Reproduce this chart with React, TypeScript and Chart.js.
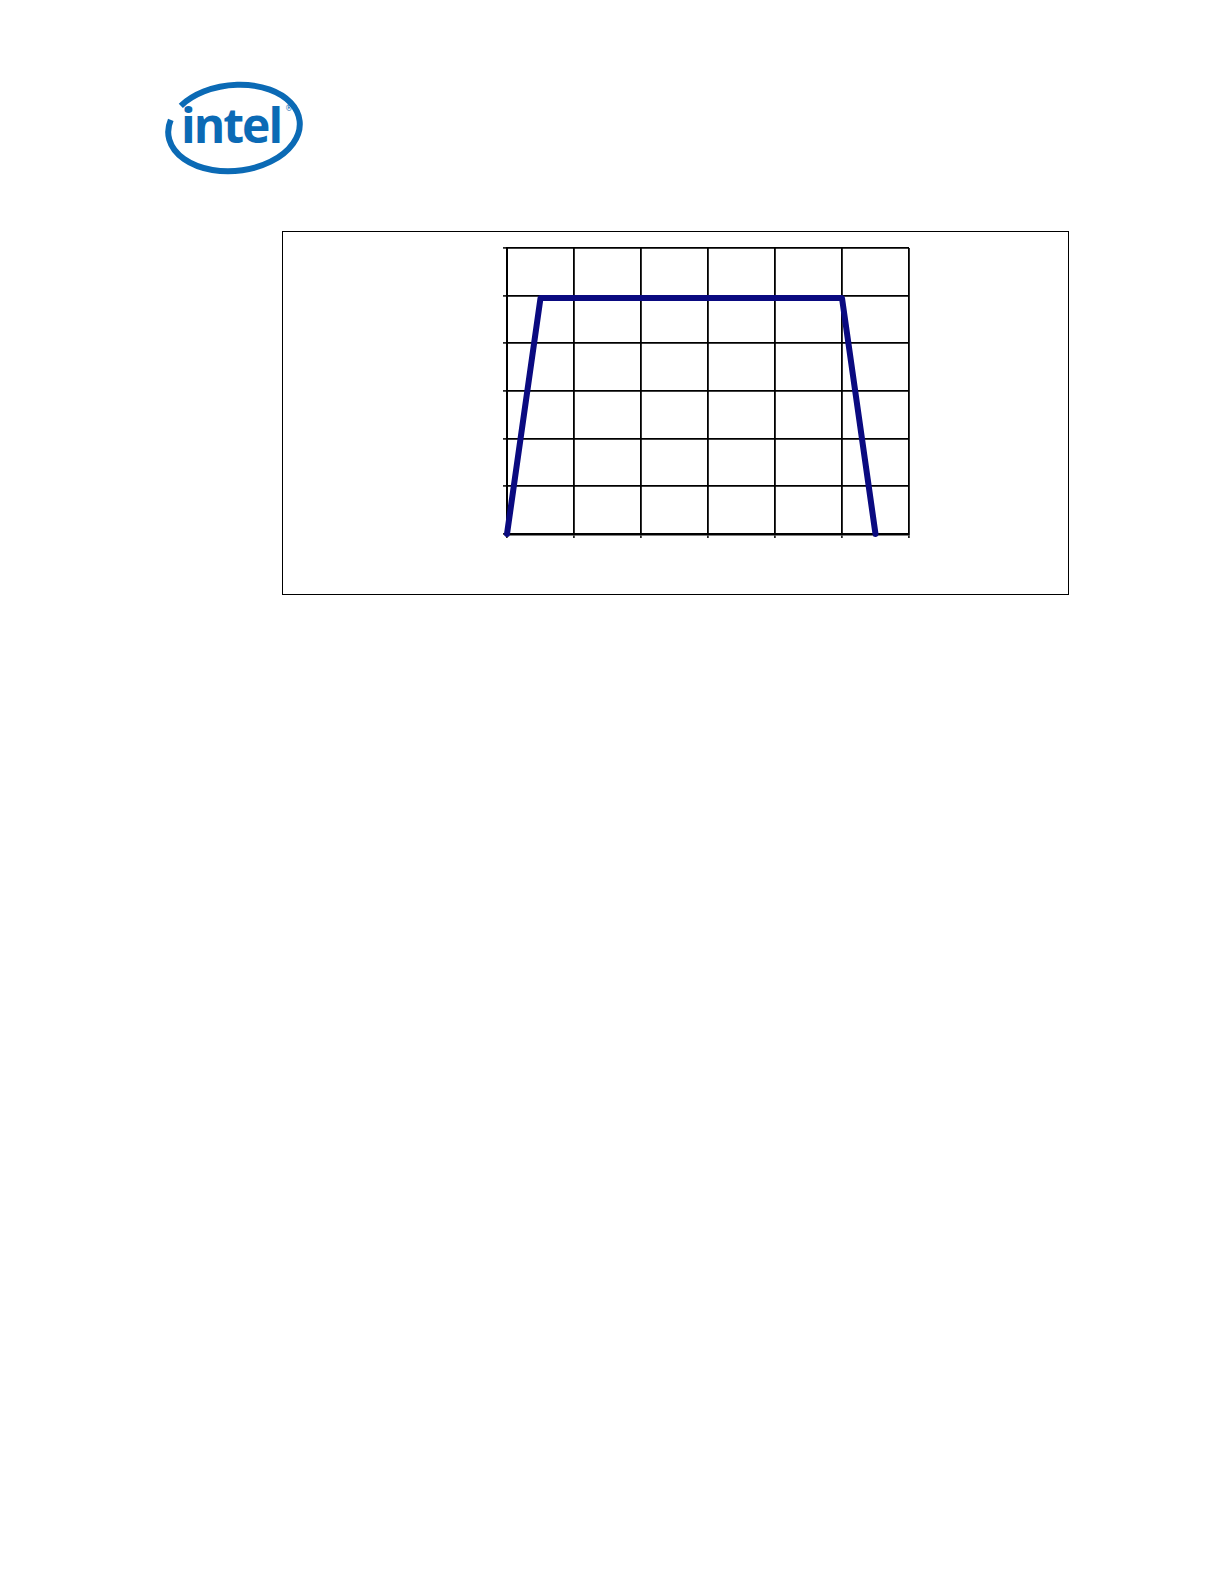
import React, { useEffect, useRef } from "react";
import { Chart, registerables } from "chart.js";

Chart.register(...registerables);

// Data (axis units: 6 x 6 grid, no labels shown)
const xValues = [0, 0.5, 5, 5.5];
const yValues = [0, 4.95, 4.95, 0];
const xRange = [0, 6];
const yRange = [0, 6];

const LOGO_BLUE = "#0b6ab5";

function ellipseArc(cx: number, cy: number, rx: number, ry: number, rotDeg: number, t0: number, t1: number) {
  const r = (rotDeg * Math.PI) / 180;
  const pt = (tDeg: number) => {
    const t = (tDeg * Math.PI) / 180;
    const x = rx * Math.cos(t);
    const y = ry * Math.sin(t);
    return [cx + x * Math.cos(r) - y * Math.sin(r), cy + x * Math.sin(r) + y * Math.cos(r)];
  };
  const [sx, sy] = pt(t0);
  const [ex, ey] = pt(t1);
  return `M ${sx.toFixed(2)} ${sy.toFixed(2)} A ${rx} ${ry} ${rotDeg} 1 1 ${ex.toFixed(2)} ${ey.toFixed(2)}`;
}

function Logo() {
  return (
    <svg
      width={170}
      height={120}
      style={{ position: "absolute", left: 150 - 8, top: 70 - 8 }}
      viewBox="0 0 170 120"
    >
      <path
        d={ellipseArc(84, 58, 66, 43, -6, 220, 200)}
        fill="none"
        stroke={LOGO_BLUE}
        strokeWidth={6}
        strokeLinecap="butt"
      />
      <text
        x={31}
        y={73}
        fontFamily="'Open Sans', 'DejaVu Sans', sans-serif"
        fontWeight={700}
        fontSize={48}
        fill={LOGO_BLUE}
        style={{ letterSpacing: "-2px" }}
      >
        intel
      </text>
      <text
        x={135}
        y={41}
        fontFamily="'DejaVu Sans', sans-serif"
        fontSize={8}
        fill={LOGO_BLUE}
      >
        ®
      </text>
    </svg>
  );
}

export default function App() {
  const canvasRef = useRef<HTMLCanvasElement | null>(null);

  useEffect(() => {
    if (!canvasRef.current) return;
    const gridCommon = {
      color: "#000",
      lineWidth: 1.8,
      tickLength: 4,
      tickColor: "#000",
      tickWidth: 1.5,
      borderDash: [1, 1],
    };
    const chart = new Chart(canvasRef.current, {
      type: "line",
      data: {
        datasets: [
          {
            data: xValues.map((x, i) => ({ x, y: yValues[i] })),
            borderColor: "#0a0a80",
            borderWidth: 6,
            pointRadius: 0,
            borderCapStyle: "round",
            borderJoinStyle: "round",
            tension: 0,
            clip: false as any,
          },
        ],
      },
      options: {
        animation: false,
        responsive: false,
        devicePixelRatio: 1,
        layout: { padding: { left: 8, right: 6, top: 8, bottom: 7 } },
        plugins: { legend: { display: false }, tooltip: { enabled: false } },
        scales: {
          x: {
            type: "linear",
            min: xRange[0],
            max: xRange[1],
            ticks: { stepSize: 1, display: false },
            grid: { ...gridCommon },
            border: { display: true, color: "#000", width: 2.5, dash: [] },
            afterFit: (s: any) => {
              s.height = 4;
            },
          },
          y: {
            type: "linear",
            min: yRange[0],
            max: yRange[1],
            ticks: { stepSize: 1, display: false },
            grid: { ...gridCommon },
            border: { display: true, color: "#000", width: 2, dash: [] },
            afterFit: (s: any) => {
              s.width = 4;
            },
          },
        },
      } as any,
    });
    return () => chart.destroy();
  }, []);

  return (
    <div style={{ position: "relative", width: 1208, height: 1568, background: "#fff" }}>
      <Logo />
      <div
        style={{
          position: "absolute",
          left: 282 - 8,
          top: 231 - 8,
          width: 1069 - 282,
          height: 595 - 231,
          border: "1.5px solid #000",
          boxSizing: "border-box",
        }}
      />
      <canvas
        ref={canvasRef}
        width={420}
        height={305}
        style={{ position: "absolute", left: 495 - 8, top: 240 - 8, width: 420, height: 305 }}
      />
    </div>
  );
}
